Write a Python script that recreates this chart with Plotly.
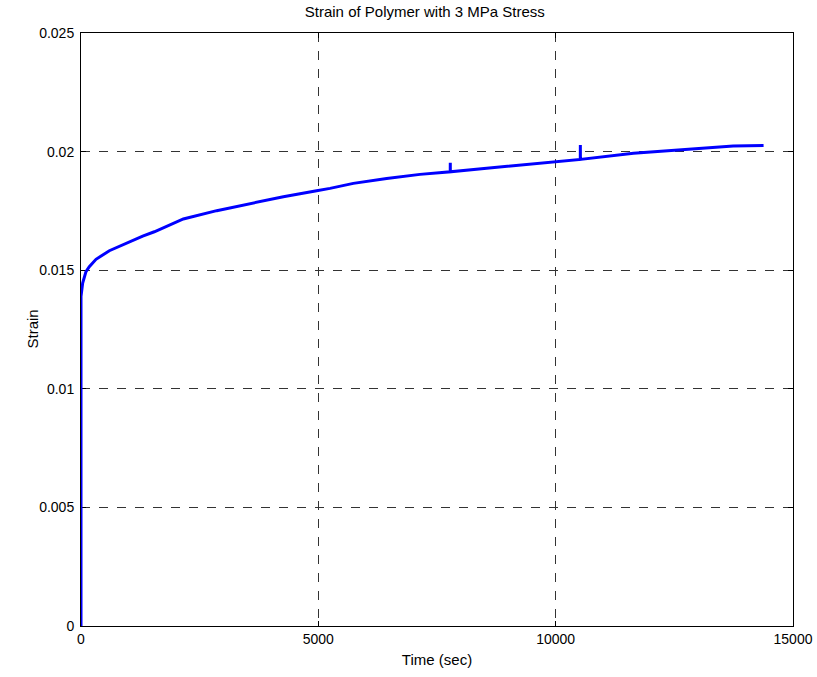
import plotly.graph_objects as go

# Time (sec) and strain
time_s = [0, 0, 35, 105, 175, 316, 597, 948, 1300, 1545, 2156, 2859, 3561, 4263,
          4965, 5246, 5737, 6440, 7142, 7779, 7780, 7781, 8546, 9249, 10000,
          10519, 10520, 10521, 11640, 12340, 13040, 13740, 14380]
strain = [0.0, 0.0139, 0.01446, 0.01494, 0.01515, 0.01546, 0.01582, 0.01613,
          0.01644, 0.01662, 0.01716, 0.01751, 0.01782, 0.0181, 0.01835, 0.01845,
          0.01866, 0.01887, 0.01904, 0.01915, 0.01953, 0.01915, 0.0193, 0.01943,
          0.01957, 0.01967, 0.02028, 0.01967, 0.01993, 0.02004, 0.02012, 0.02024,
          0.02026]

x_ticks = [0, 5000, 10000, 15000]
x_ticklabels = ["0", "5000", "10000", "15000"]
y_ticks = [0, 0.005, 0.01, 0.015, 0.02, 0.025]
y_ticklabels = ["0", "0.005", "0.01", "0.015", "0.02", "0.025"]

fig = go.Figure()
fig.add_trace(go.Scatter(x=time_s, y=strain, mode="lines",
                         line=dict(color="#0000ff", width=3), showlegend=False))

fam = "Liberation Sans, Arial, sans-serif"
tick_font = dict(family=fam, size=14, color="black")
label_font = dict(family=fam, size=15, color="black")
axis_common = dict(showline=True, linecolor="black", linewidth=1, mirror="ticks",
                   ticks="inside", ticklen=5, tickcolor="black",
                   showgrid=True, gridcolor="#333333", gridwidth=1, griddash="dash",
                   zeroline=False, layer="below traces", tickfont=tick_font,
                   automargin=False)

fig.update_layout(
    width=817, height=677,
    margin=dict(l=81, r=24, t=33, b=51, autoexpand=False),
    paper_bgcolor="white", plot_bgcolor="white",
    font=tick_font,
    title=dict(text="Strain of Polymer with 3 MPa Stress", x=0.52, xanchor="center",
               y=0.982, yanchor="middle", font=label_font),
    xaxis=dict(range=[0, 15000], tickvals=x_ticks, ticktext=x_ticklabels,
               title=dict(text="Time (sec)", standoff=8, font=label_font), **axis_common),
    yaxis=dict(range=[0, 0.025], tickvals=y_ticks, ticktext=y_ticklabels,
               ticklabelstandoff=3, **axis_common),
    annotations=[dict(text="Strain", xref="paper", yref="paper", x=-0.0688, y=0.5,
                      xanchor="center", yanchor="middle", textangle=-90,
                      showarrow=False, font=label_font)],
)

fig.write_html("out.html")
